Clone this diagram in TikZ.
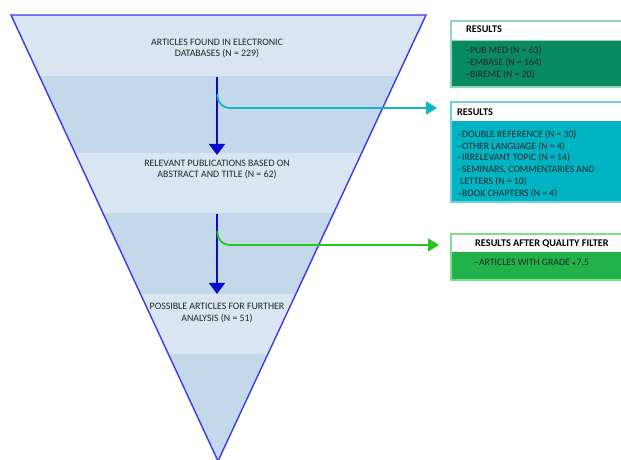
\documentclass[tikz,border=0pt]{standalone}
\usepackage{fontspec}
\setmainfont{Carlito}
\newfontfamily\symfont{DejaVu Sans}
\usetikzlibrary{arrows.meta}

\definecolor{bandlight}{HTML}{D9E5F0}
\definecolor{banddark}{HTML}{C4D8EC}
\definecolor{funneledge}{HTML}{3A3AE8}
\definecolor{flowblue}{HTML}{0A0ACC}
\definecolor{flowteal}{HTML}{12B4C4}
\definecolor{flowgreen}{HTML}{22C81E}
\definecolor{boxgreen}{HTML}{0A8A62}
\definecolor{boxteal}{HTML}{00B4C4}
\definecolor{boxlime}{HTML}{21B24B}
\definecolor{edgegreen}{HTML}{8ED6BC}
\definecolor{edgeteal}{HTML}{6ED0DA}
\definecolor{edgelime}{HTML}{7EE08A}
\definecolor{txt}{HTML}{262626}

\begin{document}
\begin{tikzpicture}[x=1bp,y=-1bp,
  stagetext/.style={align=center,font=\fontsize{9.9}{11.4}\selectfont,text=txt,inner sep=0pt},
  hdrtext/.style={anchor=west,font=\fontsize{10.3}{11}\selectfont\bfseries,text=black,inner sep=0pt},
  listtext/.style={anchor=north west,align=left,font=\fontsize{9.8}{11.8}\selectfont,text=txt,inner sep=0pt},
  flow/.style={line width=1.8bp,-{Triangle[width=16bp,length=11bp]}},
  branch/.style={line width=1.8bp,rounded corners=12bp,-{Triangle[width=13bp,length=11bp]}}
]
\useasboundingbox (0,0) rectangle (621,460);

% funnel bands
\begin{scope}
  \clip (11,15) -- (426,15) -- (218,461) -- cycle;
  \fill[bandlight] (0,15) rectangle (440,76);
  \fill[banddark]  (0,76) rectangle (440,153);
  \fill[bandlight] (0,153) rectangle (440,213);
  \fill[banddark]  (0,213) rectangle (440,294);
  \fill[bandlight] (0,294) rectangle (440,354);
  \fill[banddark]  (0,354) rectangle (440,470);
\end{scope}
\draw[funneledge,line width=1.4bp,line join=miter] (11,15) -- (426,15) -- (218,461) -- cycle;

% stage labels
\node[stagetext] (s1) at (217,48.5) {ARTICLES FOUND IN ELECTRONIC\\DATABASES (N = 229)};
\node[stagetext] (s2) at (217,169.5) {RELEVANT PUBLICATIONS BASED ON\\ABSTRACT AND TITLE (N = 62)};
\node[stagetext] (s3) at (217,313) {POSSIBLE ARTICLES FOR FURTHER\\ANALYSIS (N = 51)};

% result boxes
\fill[boxgreen] (451,40) rectangle (630,87);
\draw[edgegreen,line width=1.2bp] (451,21) rectangle (630,87);
\draw[edgegreen,line width=0.8bp] (451,40) -- (630,40);
\node[hdrtext] (r1h) at (466,29.5) {RESULTS};
\node[listtext] (r1b) at (465,46.5) {--PUB MED (N = 63)\\--EMBASE (N = 164)\\--BIREME (N = 20)};

\fill[boxteal] (451,121) rectangle (630,202);
\draw[edgeteal,line width=1.2bp] (451,102) rectangle (630,202);
\node[hdrtext] (r2h) at (457,112.5) {RESULTS};
\node[listtext] (r2b) at (457,130) {--DOUBLE REFERENCE (N = 30)\\--OTHER LANGUAGE (N = 4)\\--IRRELEVANT TOPIC (N = 14)\\--SEMINARS, COMMENTARIES AND\\\hspace*{3bp}LETTERS (N = 10)\\--BOOK CHAPTERS (N = 4)};

\fill[boxlime] (451,252) rectangle (630,280);
\draw[edgelime,line width=1.2bp] (451,234) rectangle (630,280);
\node[hdrtext] (r3h) at (475,243.5) {RESULTS AFTER QUALITY FILTER};
\node[listtext] (r3b) at (474,259) {--ARTICLES WITH GRADE {\symfont\fontsize{6}{6}\selectfont ◂}\,7.5};

% main flow
\coordinate (a1) at (217,77);
\coordinate (a1end) at (217,155);
\coordinate (a2) at (217,214);
\coordinate (a2end) at (217,294);
\draw[flow,flowblue] (a1) -- (a1end);
\draw[flow,flowblue] (a2) -- (a2end);

% exclusions branching off
\coordinate (t1) at (217.5,94);
\coordinate (t1end) at (437,108);
\coordinate (t2) at (217.5,231);
\coordinate (t2end) at (439,245);
\draw[branch,flowteal] (t1) |- (t1end);
\draw[branch,flowgreen] (t2) |- (t2end);
\end{tikzpicture}
\end{document}
